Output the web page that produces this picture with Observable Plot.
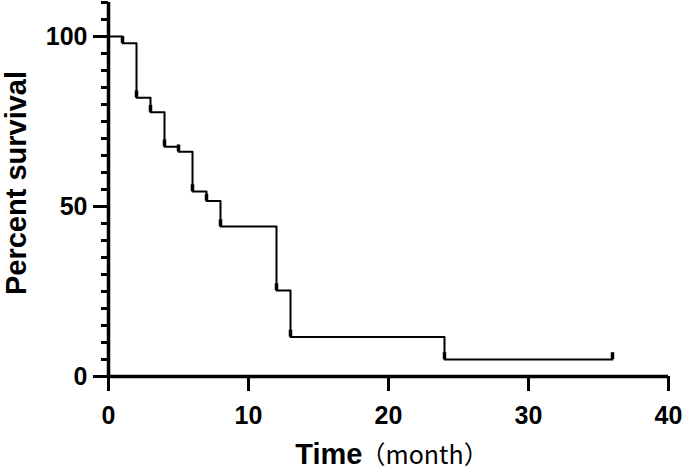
<!DOCTYPE html>
<html>
<head>
<meta charset="utf-8">
<script src="https://cdn.jsdelivr.net/npm/d3@7"></script>
<script src="https://cdn.jsdelivr.net/npm/@observablehq/plot@0.6"></script>
<style>
  html, body { margin: 0; padding: 0; background: #fff; }
  #chart svg { display: block; }
</style>
</head>
<body>
<div id="chart"></div>
<script>
// Kaplan–Meier step data (months, percent survival)
const times    = [0, 1, 2, 3, 4, 5, 6, 7, 8, 12, 13, 24, 36];
const survival = [100, 98, 82, 77.7, 67.6, 66.1, 54.4, 51.6, 44.1, 25.3, 11.6, 5, 5];
// censor marks (time, level)
const censorTimes  = [1, 2, 3, 4, 5, 6, 7, 8, 12, 13, 24, 36];
const censorLevels = [98, 82, 77.7, 67.6, 66.1, 54.4, 51.6, 44.1, 25.3, 11.6, 5, 5];
// axis ticks
const xTicks = [0, 10, 20, 30, 40];
const yTicks = [0, 50, 100];
const yMinorTicks = d3.range(0, 111, 5);

const curve = times.map((t, i) => ({t, s: survival[i]}));
const censors = censorTimes.map((t, i) => ({t, s: censorLevels[i]}));

const font = "Liberation Sans, Arial, sans-serif";

const chart = Plot.plot({
  width: 685,
  height: 474,
  marginLeft: 108,
  marginRight: 17,
  marginTop: 2,
  marginBottom: 98,
  style: {fontFamily: font, background: "#fff", color: "#000", overflow: "visible"},
  x: {domain: [0, 40]},
  y: {domain: [0, 110]},
  marks: [
    // minor y ticks
    Plot.axisY({ticks: yMinorTicks, tickSize: 7, text: null, strokeWidth: 3, label: null}),
    // major y ticks + labels
    Plot.axisY({ticks: yTicks, tickSize: 15, tickPadding: 6, fontSize: 25, fontWeight: "bold",
                strokeWidth: 3, label: null, tickFormat: d3.format("d")}),
    // x ticks + labels
    Plot.axisX({ticks: xTicks, tickSize: 15, tickPadding: 15, fontSize: 25, fontWeight: "bold",
                strokeWidth: 3, label: null, tickFormat: d3.format("d")}),
    // axis lines
    Plot.ruleX([0], {strokeWidth: 3.5}),
    Plot.ruleY([0], {strokeWidth: 3.5}),
    // survival curve
    Plot.line(curve, {x: "t", y: "s", curve: "step-after", stroke: "#000", strokeWidth: 2}),
    // censor ticks
    Plot.ruleX(censors, {x: "t", y1: "s", y2: d => d.s + 2, stroke: "#000", strokeWidth: 3.5}),
    // axis titles
    Plot.text(["Percent survival"], {frameAnchor: "left", rotate: -90, lineAnchor: "bottom",
      textAnchor: "middle", dx: -83, dy: -6.5, fontSize: 29, fontWeight: "bold", fill: "#000"}),
    Plot.text(["Time"], {frameAnchor: "bottom", textAnchor: "end", lineAnchor: "bottom",
      dx: -26, dy: 87, fontSize: 29, fontWeight: "bold", fill: "#000"}),
    Plot.text(["（month）"], {frameAnchor: "bottom", textAnchor: "start", lineAnchor: "bottom",
      dx: -28, dy: 87, fontSize: 25, fill: "#000", fontFamily: "Noto Sans CJK JP"})
  ]
});
document.getElementById("chart").appendChild(chart);
</script>
</body>
</html>
